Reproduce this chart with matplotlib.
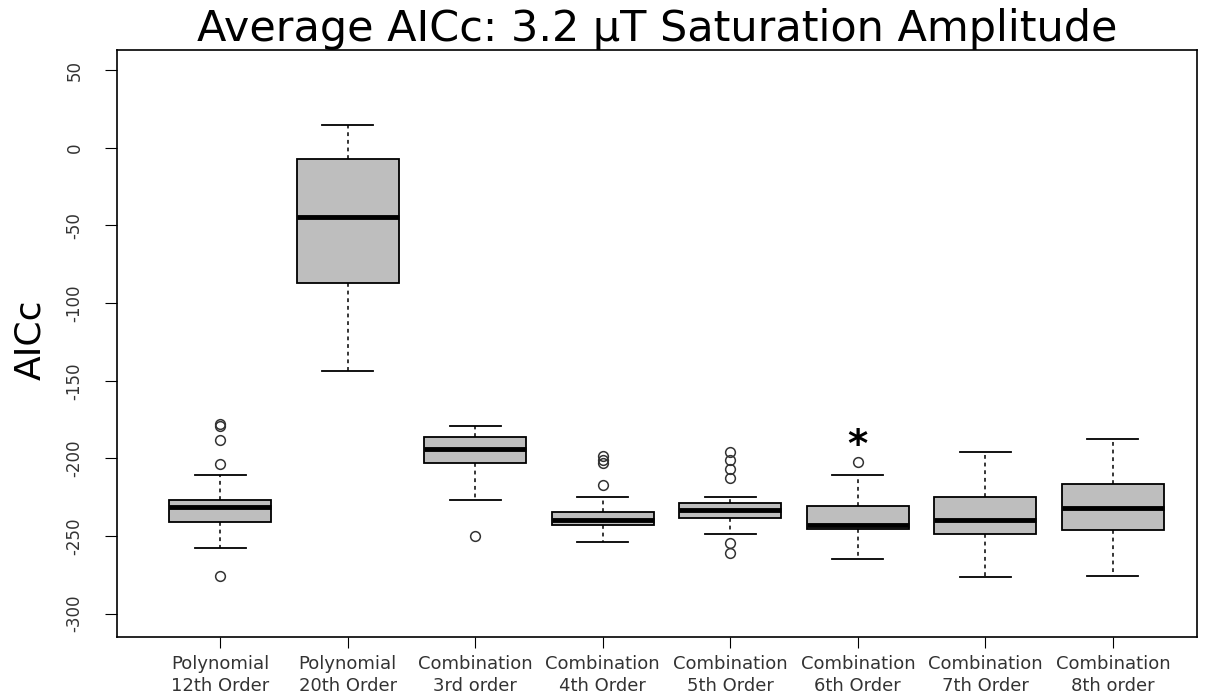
import matplotlib.pyplot as plt

plt.rcParams['axes.unicode_minus'] = False
plt.rcParams['font.family'] = 'DejaVu Sans'

# Model labels and box statistics (AICc)
labels = ['Polynomial\n12th Order', 'Polynomial\n20th Order', 'Combination\n3rd order',
          'Combination\n4th Order', 'Combination\n5th Order', 'Combination\n6th Order',
          'Combination\n7th Order', 'Combination\n8th order']
whisker_hi = [-210.7, 14.6, -179, -225, -225, -211, -195.6, -187.5]
q3 = [-227, -7, -186.4, -234.2, -228.8, -230.4, -224.6, -216.4]
medians = [-231, -44.8, -194, -239.6, -233, -243, -239.6, -232]
q1 = [-241, -87.3, -202.7, -242.8, -238.5, -245.5, -248.6, -246.4]
whisker_lo = [-258, -143.5, -227, -254, -248.6, -264.7, -276.5, -275.4]
outliers = [
    [-178, -179, -188, -203.6, -275.6],
    [],
    [-250],
    [-198.4, -201, -203, -217.2],
    [-195.6, -201, -207, -212.7, -254.6, -261],
    [-202.4],
    [],
    [],
]
starred = 6  # best model, flagged with an asterisk
star_value = -192

stats = []
for i in range(len(labels)):
    stats.append(dict(label=labels[i], q1=q1[i], med=medians[i], q3=q3[i],
                      whislo=whisker_lo[i], whishi=whisker_hi[i], fliers=outliers[i]))

fig = plt.figure(figsize=(12.09, 7.0), dpi=100)
ax = fig.add_axes([117 / 1209, 63 / 700, 1080 / 1209, 587 / 700])

positions = list(range(1, len(labels) + 1))
ax.bxp(stats, positions=positions, widths=0.8, patch_artist=True,
       boxprops=dict(facecolor='#bebebe', edgecolor='black', linewidth=1.3),
       medianprops=dict(color='black', linewidth=3.5, solid_capstyle='butt'),
       whiskerprops=dict(color='black', linewidth=1.1, linestyle=(0, (2.5, 2.5))),
       capprops=dict(color='black', linewidth=1.3),
       flierprops=dict(marker='o', markerfacecolor='none', markeredgecolor='#333333',
                       markersize=7, markeredgewidth=1.1))

ax.text(starred, star_value, '*', fontsize=28, fontweight='bold', ha='center',
        va='center', color='black')

ax.set_xlim(0.19, 8.66)
ax.set_ylim(-315, 63)
ax.set_yticks(range(-300, 51, 50))
ax.set_xticks(positions)
ax.set_xticklabels(labels, fontsize=13, color='#333333', linespacing=1.25)
ax.tick_params(axis='y', labelrotation=90, labelsize=12, length=9, pad=15,
               labelcolor='#333333')
for t in ax.get_yticklabels():
    t.set_verticalalignment('center')
ax.tick_params(axis='x', length=8, pad=5)
for s in ax.spines.values():
    s.set_linewidth(1.2)

ax.set_title('Average AICc: 3.2 μT Saturation Amplitude', fontsize=31, pad=3)
fig.text(30 / 1209, 1 - 340 / 700, 'AICc', rotation=90, ha='center', va='center',
         fontsize=26)

fig.savefig('out.png', dpi=100, facecolor='white')
